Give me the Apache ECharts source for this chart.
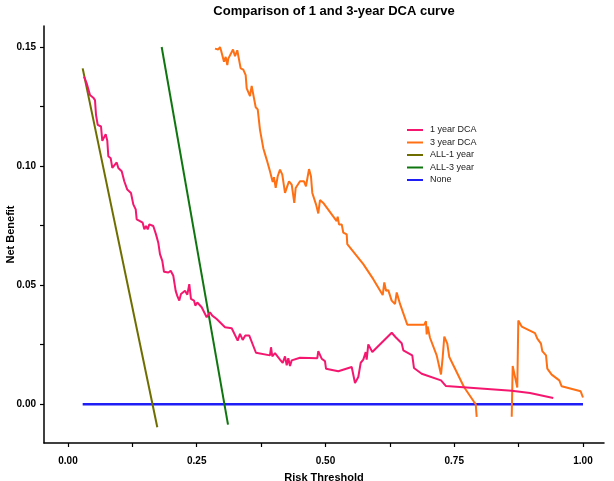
<!DOCTYPE html>
<html>
<head>
<meta charset="utf-8">
<script src="https://cdn.jsdelivr.net/npm/echarts@6/dist/echarts.min.js"></script>
<style>
html,body{margin:0;padding:0;background:#fff;}
#chart{width:614px;height:481px;}
</style>
</head>
<body>
<div id="chart"></div>
<script>
// ---- data ----
var titleText = 'Comparison of 1 and 3-year DCA curve';
var seriesNames = ['1 year DCA', '3 year DCA', 'ALL-1 year', 'ALL-3 year', 'None'];
var xTickLabels = [0, 0.25, 0.5, 0.75, 1.0];
var xTicks = [0, 0.125, 0.25, 0.375, 0.5, 0.625, 0.75, 0.875, 1.0];
var yTickLabels = [0, 0.05, 0.10, 0.15];
var yTicks = [0, 0.025, 0.05, 0.075, 0.10, 0.125, 0.15];

var oneYearX = [0.0311,0.0363,0.0427,0.0491,0.0524,0.0544,0.0577,0.0641,0.0666,0.0732,0.0763,0.0783,0.0829,0.0860,0.0893,0.0946,0.0977,0.1043,0.1093,0.1151,0.1223,0.1268,0.1315,0.1334,0.1398,0.1450,0.1482,0.1515,0.1548,0.1579,0.1656,0.1709,0.1753,0.1786,0.1831,0.1864,0.1948,0.1994,0.2045,0.2091,0.2122,0.2161,0.2194,0.2272,0.2317,0.2355,0.2388,0.2447,0.2472,0.2511,0.2596,0.2693,0.2757,0.2802,0.2887,0.3049,0.3179,0.3295,0.3340,0.3392,0.3443,0.3520,0.3650,0.3922,0.3942,0.3967,0.4019,0.4117,0.4169,0.4214,0.4247,0.4278,0.4311,0.4344,0.4505,0.4841,0.4860,0.4926,0.4990,0.5010,0.5249,0.5509,0.5573,0.5637,0.5684,0.5734,0.5781,0.5800,0.5831,0.5909,0.6286,0.6363,0.6480,0.6511,0.6685,0.6718,0.6868,0.7243,0.7340,0.8616,0.8971,0.9423];
var oneYearY = [0.1375,0.1347,0.1298,0.1287,0.1277,0.1215,0.1173,0.1166,0.1106,0.1134,0.1106,0.1041,0.1033,0.0992,0.0985,0.1015,0.0992,0.0978,0.0936,0.0901,0.0887,0.0839,0.0818,0.0776,0.0769,0.0762,0.0734,0.0748,0.0734,0.0755,0.0748,0.0713,0.0678,0.0630,0.0602,0.0556,0.0553,0.0560,0.0539,0.0476,0.0455,0.0435,0.0463,0.0476,0.0460,0.0504,0.0442,0.0435,0.0414,0.0427,0.0407,0.0365,0.0386,0.0372,0.0358,0.0323,0.0319,0.0267,0.0295,0.0270,0.0288,0.0288,0.0216,0.0205,0.0239,0.0201,0.0214,0.0187,0.0173,0.0201,0.0163,0.0193,0.0160,0.0184,0.0195,0.0193,0.0223,0.0191,0.0181,0.0149,0.0138,0.0156,0.0089,0.0114,0.0174,0.0187,0.0219,0.0187,0.0251,0.0219,0.0300,0.0281,0.0256,0.0226,0.0205,0.0152,0.0128,0.0100,0.0076,0.0056,0.0047,0.0026];

var threeYearX = [0.2854,0.2918,0.2951,0.2971,0.3029,0.3062,0.3093,0.3113,0.3146,0.3204,0.3243,0.3287,0.3307,0.3353,0.3404,0.3450,0.3470,0.3501,0.3534,0.3567,0.3612,0.3645,0.3684,0.3728,0.3792,0.3858,0.3922,0.3975,0.4000,0.4033,0.4072,0.4117,0.4161,0.4214,0.4247,0.4291,0.4344,0.4394,0.4421,0.4505,0.4583,0.4621,0.4654,0.4680,0.4718,0.4744,0.4816,0.4860,0.4893,0.4957,0.5217,0.5237,0.5262,0.5315,0.5346,0.5412,0.5423,0.5734,0.5928,0.6111,0.6142,0.6175,0.6219,0.6285,0.6350,0.6383,0.6447,0.6588,0.6918,0.6951,0.6965,0.6984,0.7029,0.7159,0.7243,0.7276,0.7307,0.7365,0.7404,0.7689,0.7883,0.7917,0.7936,0.8300,0.8616,0.8635,0.8724,0.8744,0.8810,0.9068,0.9113,0.9184,0.9210,0.9282,0.9307,0.9392,0.9540,0.9586,0.9955,1.0000];
var threeYearY = [0.1493,0.1489,0.1500,0.1486,0.1438,0.1458,0.1424,0.1451,0.1447,0.1489,0.1461,0.1486,0.1479,0.1410,0.1405,0.1382,0.1326,0.1333,0.1294,0.1336,0.1284,0.1247,0.1238,0.1152,0.1075,0.1027,0.0978,0.0933,0.0953,0.0908,0.0957,0.0985,0.0964,0.0887,0.0908,0.0936,0.0922,0.0845,0.0908,0.0936,0.0936,0.0915,0.0922,0.0987,0.0957,0.0887,0.0839,0.0801,0.0857,0.0845,0.0769,0.0787,0.0755,0.0755,0.0720,0.0713,0.0672,0.0588,0.0525,0.0458,0.0511,0.0476,0.0479,0.0435,0.0421,0.0469,0.0421,0.0334,0.0334,0.0348,0.0293,0.0326,0.0279,0.0205,0.0125,0.0198,0.0284,0.0254,0.0198,0.0072,0.0010,0.0000,-0.0053,null,-0.0053,0.0160,0.0070,0.0351,0.0326,0.0298,0.0275,0.0254,0.0223,0.0205,0.0149,0.0124,0.0100,0.0075,0.0054,0.0028];

var allOneX = [0.0285, 0.1734];
var allOneY = [0.1410, -0.0097];
var allThreeX = [0.1819, 0.3107];
var allThreeY = [0.1500, -0.0086];
var noneX = [0.0285, 1.0];
var noneY = [0, 0];

var colors = ['#F5176F', '#FF7014', '#6E6E00', '#0F760F', '#1E1EF5'];

function zip(xs, ys) {
  var out = [];
  for (var i = 0; i < xs.length; i++) out.push([xs[i], ys[i] === null ? null : ys[i]]);
  return out;
}

var seriesData = [
  zip(oneYearX, oneYearY),
  zip(threeYearX, threeYearY),
  zip(allOneX, allOneY),
  zip(allThreeX, allThreeY),
  zip(noneX, noneY)
];
var widths = [2, 2, 2, 2, 2.5];

var chart = echarts.init(document.getElementById('chart'), null, {renderer: 'canvas'});
var fam = '"Liberation Sans", Arial, Helvetica, sans-serif';

var series = seriesNames.map(function (n, i) {
  return {
    name: n,
    type: 'line',
    data: seriesData[i],
    showSymbol: false,
    symbol: 'none',
    connectNulls: false,
    clip: true,
    color: colors[i],
    lineStyle: {color: colors[i], width: widths[i]},
    z: 5 - i
  };
});

chart.setOption({
  animation: false,
  backgroundColor: '#ffffff',
  title: {
    text: titleText,
    left: 329,
    top: 0,
    textAlign: 'center',
    textStyle: {fontFamily: fam, fontSize: 13, fontWeight: 'bold', color: '#000'}
  },
  legend: {
    data: seriesNames,
    orient: 'vertical',
    left: 402,
    top: 119,
    icon: 'rect',
    itemWidth: 16,
    itemHeight: 2,
    itemGap: 0.5,
    textStyle: {fontFamily: fam, fontSize: 9, color: '#222', lineHeight: 12, padding: [0, 0, 0, 2]}
  },
  grid: {left: 44, right: 10, top: 26, bottom: 38, containLabel: false, outerBoundsMode: 'none'},
  xAxis: {
    type: 'value',
    min: -0.0466,
    max: 1.0408,
    name: 'Risk Threshold',
    nameLocation: 'middle',
    nameGap: 29,
    nameMoveOverlap: false,
    nameTextStyle: {fontFamily: fam, fontSize: 11, fontWeight: 'bold', color: '#000'},
    splitLine: {show: false},
    axisLine: {show: true, onZero: false, lineStyle: {color: '#000', width: 1.5}},
    axisTick: {show: true, length: 4, customValues: xTicks, lineStyle: {color: '#000', width: 1.2}},
    axisLabel: {
      customValues: xTickLabels,
      margin: 13,
      fontFamily: fam, fontSize: 10, fontWeight: 'bold', color: '#000',
      formatter: function (v) { return Number(v).toFixed(2); }
    }
  },
  yAxis: {
    type: 'value',
    min: -0.0163,
    max: 0.1588,
    name: 'Net Benefit',
    nameLocation: 'middle',
    nameGap: 28,
    nameMoveOverlap: false,
    nameTextStyle: {fontFamily: fam, fontSize: 11, fontWeight: 'bold', color: '#000'},
    splitLine: {show: false},
    axisLine: {show: true, onZero: false, lineStyle: {color: '#000', width: 1.5}},
    axisTick: {show: true, length: 4, customValues: yTicks, lineStyle: {color: '#000', width: 1.2}},
    axisLabel: {
      customValues: yTickLabels,
      margin: 8,
      fontFamily: fam, fontSize: 10, fontWeight: 'bold', color: '#000',
      formatter: function (v) { return Number(v).toFixed(2); }
    }
  },
  series: series
});
</script>
</body>
</html>
